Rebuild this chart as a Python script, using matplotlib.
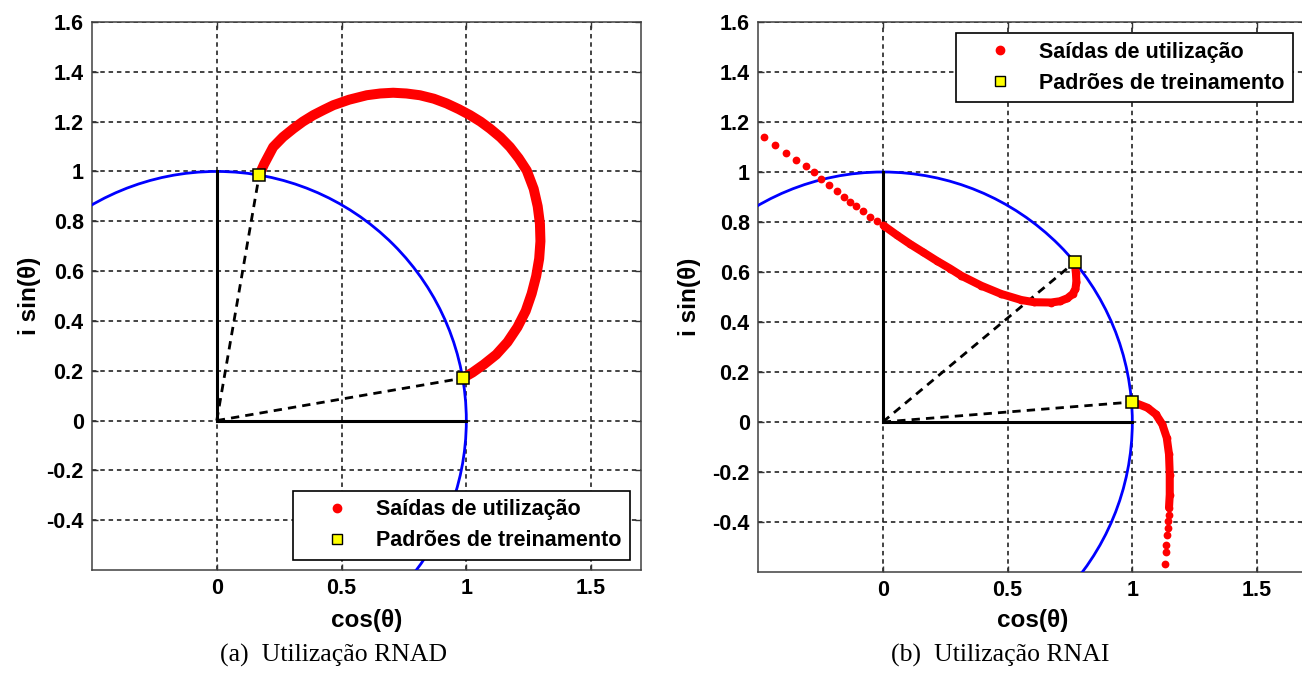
import matplotlib
matplotlib.use("Agg")
import matplotlib.pyplot as plt
from matplotlib.patches import Circle
from matplotlib.lines import Line2D

# ---------------- dados ----------------
raio_unitario = 1.0

x_ticks = [0, 0.5, 1, 1.5]
x_tick_labels = ["0", "0.5", "1", "1.5"]
y_ticks = [-0.4, -0.2, 0, 0.2, 0.4, 0.6, 0.8, 1.0, 1.2, 1.4, 1.6]
y_tick_labels = ["-0.4", "-0.2", "0", "0.2", "0.4", "0.6", "0.8", "1", "1.2", "1.4", "1.6"]

rotulos_legenda = ["Saídas de utilização", "Padrões de treinamento"]
legendas_figura = ["(a)  Utilização RNAD", "(b)  Utilização RNAI"]

# (a) RNAD
rnad_treino_x = [0.17, 0.985]
rnad_treino_y = [0.985, 0.17]
rnad_saida_x = [0.170, 0.190, 0.226, 0.265, 0.307, 0.345, 0.387, 0.430, 0.467, 0.530,
                0.601, 0.655, 0.707, 0.760, 0.814, 0.870, 0.921, 0.970, 1.015, 1.057,
                1.095, 1.137, 1.175, 1.210, 1.242, 1.270, 1.286, 1.295, 1.297, 1.292,
                1.280, 1.262, 1.238, 1.205, 1.165, 1.120, 1.070, 1.025, 0.985]
rnad_saida_y = [0.985, 1.030, 1.098, 1.138, 1.172, 1.200, 1.226, 1.248, 1.266, 1.288,
                1.306, 1.313, 1.316, 1.313, 1.306, 1.292, 1.273, 1.250, 1.226, 1.200,
                1.172, 1.137, 1.098, 1.053, 1.004, 0.930, 0.860, 0.790, 0.720, 0.650,
                0.580, 0.510, 0.440, 0.375, 0.315, 0.265, 0.225, 0.193, 0.170]

# (b) RNAI
rnai_treino_x = [0.770, 1.000]
rnai_treino_y = [0.640, 0.080]
# ramo superior: saidas espaçadas
rnai_sup_esparso_x = [-0.476, -0.430, -0.386, -0.349, -0.309, -0.277, -0.248, -0.216,
                      -0.184, -0.154, -0.130, -0.107, -0.080, -0.051, -0.024, 0.003]
rnai_sup_esparso_y = [1.142, 1.109, 1.077, 1.050, 1.025, 0.999, 0.973, 0.947,
                      0.926, 0.902, 0.882, 0.864, 0.843, 0.822, 0.806, 0.786]
# ramo superior: saidas densas
rnai_sup_denso_x = [0.003, 0.056, 0.109, 0.162, 0.216, 0.269, 0.315, 0.395, 0.475,
                    0.555, 0.608, 0.675, 0.710, 0.740, 0.761, 0.772, 0.776, 0.774, 0.770]
rnai_sup_denso_y = [0.786, 0.748, 0.712, 0.679, 0.645, 0.614, 0.585, 0.545, 0.512,
                    0.488, 0.479, 0.478, 0.483, 0.495, 0.512, 0.532, 0.560, 0.595, 0.630]
# ramo inferior: saidas densas
rnai_inf_denso_x = [0.990, 1.020, 1.061, 1.094, 1.120, 1.138, 1.147, 1.150, 1.150, 1.147]
rnai_inf_denso_y = [0.080, 0.073, 0.057, 0.031, -0.009, -0.063, -0.129, -0.210, -0.290, -0.343]
# ramo inferior: saidas espaçadas
rnai_inf_esparso_x = [1.146, 1.144, 1.143, 1.140, 1.136, 1.134, 1.131]
rnai_inf_esparso_y = [-0.370, -0.397, -0.424, -0.453, -0.490, -0.520, -0.568]

# ---------------- estilo ----------------
FONTE = ["Liberation Sans", "DejaVu Sans"]
plt.rcParams["font.family"] = FONTE
plt.rcParams["font.weight"] = "bold"

W, H = 1302, 687
fig = plt.figure(figsize=(W / 100, H / 100), dpi=100)

ax_a = fig.add_axes([92 / W, 1 - 570 / H, 549 / W, 548 / H])
ax_b = fig.add_axes([758 / W, 1 - 572 / H, 549 / W, 550 / H])


def preparar_eixo(ax):
    ax.set_xlim(-0.5, 1.7)
    ax.set_ylim(-0.6, 1.6)
    ax.set_xticks(x_ticks)
    ax.set_xticklabels(x_tick_labels)
    ax.set_yticks(y_ticks)
    ax.set_yticklabels(y_tick_labels)
    ax.tick_params(direction="in", length=4.3, width=1.0, top=True, right=True,
                   labelsize=15.5, color="0.2", pad=6.0)
    for lab in ax.get_xticklabels() + ax.get_yticklabels():
        lab.set_fontweight("bold")
    ax.grid(True, color="0.1", linewidth=1.15, linestyle=(0, (2.8, 2.4)))
    ax.set_axisbelow(True)
    for sp in ax.spines.values():
        sp.set_linewidth(1.1)
        sp.set_color("0.25")
    ax.set_xlabel("cos(θ)", fontsize=17.5, fontweight="bold")
    ax.set_ylabel("i sin(θ)", fontsize=17.5, fontweight="bold")
    ax.add_patch(Circle((0, 0), raio_unitario, fill=False, edgecolor="blue",
                        linewidth=2.0, zorder=3))
    # eixos real e imaginario
    ax.plot([0, 0], [0, raio_unitario], color="black", lw=2.2, zorder=4)
    ax.plot([0, raio_unitario], [0, 0], color="black", lw=2.2, zorder=4)


def vetores_treino(ax, xs, ys):
    for x, y in zip(xs, ys):
        ax.plot([0, x], [0, y], color="black", lw=2.0, linestyle=(0, (3.0, 2.2)), zorder=4)


def marcar_treino(ax, xs, ys):
    ax.plot(xs, ys, linestyle="none", marker="s", markersize=8.2,
            markerfacecolor="yellow", markeredgecolor="black",
            markeredgewidth=1.1, zorder=7)


def legenda(ax, loc, anchor):
    h = [Line2D([], [], linestyle="none", marker="o", color="red", markersize=6),
         Line2D([], [], linestyle="none", marker="s", markersize=7.5,
                markerfacecolor="yellow", markeredgecolor="black", markeredgewidth=1.0)]
    leg = ax.legend(h, rotulos_legenda, loc=loc, bbox_to_anchor=anchor,
                    bbox_transform=fig.transFigure, borderaxespad=0,
                    prop={"family": FONTE, "weight": "bold", "size": 15.5},
                    frameon=True, fancybox=False, framealpha=1,
                    edgecolor="black", borderpad=0.4, handlelength=3.3,
                    handletextpad=0.15, labelspacing=0.46)
    leg.get_frame().set_linewidth(1.2)
    leg.set_zorder(10)


# ---------- (a) ----------
preparar_eixo(ax_a)
vetores_treino(ax_a, rnad_treino_x, rnad_treino_y)
ax_a.plot(rnad_saida_x, rnad_saida_y, color="red", lw=7.2,
          solid_capstyle="round", solid_joinstyle="round", zorder=5)
marcar_treino(ax_a, rnad_treino_x, rnad_treino_y)
ax_a.yaxis.set_label_coords(-0.113, 0.5)
ax_a.xaxis.set_label_coords(0.5, -0.092)
ax_a.xaxis.label.set_va("center")
ax_a.yaxis.label.set_va("center")
legenda(ax_a, "lower right", (630 / W, 1 - 560 / H))

# ---------- (b) ----------
preparar_eixo(ax_b)
vetores_treino(ax_b, rnai_treino_x, rnai_treino_y)
for xs, ys in [(rnai_sup_denso_x, rnai_sup_denso_y), (rnai_inf_denso_x, rnai_inf_denso_y)]:
    ax_b.plot(xs, ys, color="red", lw=5.8, solid_capstyle="round",
              solid_joinstyle="round", zorder=5)
for xs, ys in [(rnai_sup_esparso_x, rnai_sup_esparso_y), (rnai_sup_denso_x, rnai_sup_denso_y),
               (rnai_inf_denso_x, rnai_inf_denso_y), (rnai_inf_esparso_x, rnai_inf_esparso_y)]:
    ax_b.plot(xs, ys, linestyle="none", marker="o", markersize=5.6, color="red",
              markeredgewidth=0, zorder=5)
marcar_treino(ax_b, rnai_treino_x, rnai_treino_y)
ax_b.yaxis.set_label_coords(-0.125, 0.5)
ax_b.xaxis.set_label_coords(0.5, -0.088)
ax_b.xaxis.label.set_va("center")
ax_b.yaxis.label.set_va("center")
legenda(ax_b, "upper right", (1293 / W, 1 - 33 / H))

# ---------- legendas das subfiguras ----------
fig.text(333 / W, 1 - 655 / H, legendas_figura[0], ha="center", va="center",
         fontsize=18.5, fontweight="normal", family=["Liberation Serif", "DejaVu Serif"])
fig.text(1000 / W, 1 - 655 / H, legendas_figura[1], ha="center", va="center",
         fontsize=18.5, fontweight="normal", family=["Liberation Serif", "DejaVu Serif"])

fig.savefig("out.png", dpi=100, facecolor="white")
